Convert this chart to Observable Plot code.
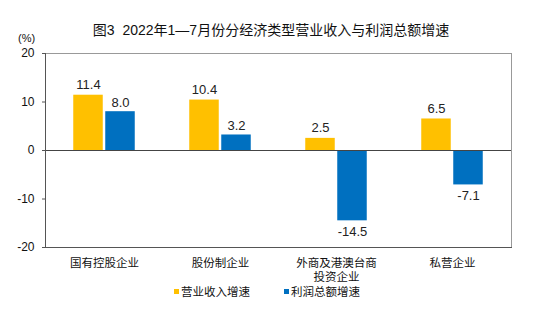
<!DOCTYPE html>
<html>
<head>
<meta charset="utf-8">
<script src="https://cdn.jsdelivr.net/npm/d3@7"></script>
<script src="https://cdn.jsdelivr.net/npm/@observablehq/plot@0.6"></script>
<style>
  html, body { margin: 0; padding: 0; background: #fff; }
  #wrap { position: relative; width: 549px; height: 328px; font-family: "Liberation Sans", "Noto Sans CJK SC", sans-serif; color: #111; }
  #title { position: absolute; left: 0; width: 542px; top: 20px; text-align: center; font-size: 14px; line-height: 20px; white-space: pre; }
  #unit { position: absolute; left: 18px; top: 32px; font-size: 11px; line-height: 13px; }
  #legend { position: absolute; left: 174px; top: 284px; font-size: 11.5px; line-height: 16px; white-space: nowrap; }
  #legend span.item { display: inline-block; margin-right: 34px; }
  #legend span.sw { display: inline-block; width: 5px; height: 5px; margin-right: 2px; vertical-align: 2px; }
  #chart { position: absolute; left: 0; top: 0; }
</style>
</head>
<body>
<div id="wrap">
  <div id="chart"></div>
  <div id="title"></div>
  <div id="unit"></div>
  <div id="legend"></div>
</div>
<script>
const titleText = "图3  2022年1—7月份分经济类型营业收入与利润总额增速";
const unitText = "(%)";
const categories = ["国有控股企业", "股份制企业", "外商及港澳台商投资企业", "私营企业"];
const categoryLabels = ["国有控股企业", "股份制企业", "外商及港澳台商\n投资企业", "私营企业"];
const seriesNames = ["营业收入增速", "利润总额增速"];
const revenueGrowth = [11.4, 10.4, 2.5, 6.5];
const profitGrowth = [8.0, 3.2, -14.5, -7.1];
const yTicks = [-20, -10, 0, 10, 20];
const colors = ["#FFC000", "#0070C0"];

document.getElementById("title").textContent = titleText;
document.getElementById("unit").textContent = unitText;

const rev = categories.map((c, i) => ({cat: c, value: revenueGrowth[i]}));
const prof = categories.map((c, i) => ({cat: c, value: profitGrowth[i]}));
const labelOf = new Map(categories.map((c, i) => [c, categoryLabels[i]]));
const fmt = d => d.toFixed(1);

const W = 549, H = 328;
const half = (W - 45 - 38) / categories.length / 2;

const plot = Plot.plot({
  width: W,
  height: H,
  marginLeft: 45,
  marginRight: 38,
  marginTop: 53,
  marginBottom: 81,
  style: {fontFamily: "'Liberation Sans', 'Noto Sans CJK SC', sans-serif", color: "#111", background: "transparent"},
  x: {domain: categories, padding: 0, label: null},
  y: {domain: [-20, 20], label: null},
  marks: [
    Plot.barY(rev, {x: "cat", y: "value", fill: colors[0], insetLeft: half - 31, insetRight: half + 1}),
    Plot.barY(prof, {x: "cat", y: "value", fill: colors[1], insetLeft: half + 1, insetRight: half - 31}),
    Plot.ruleY([0], {stroke: "#444", strokeWidth: 1}),
    Plot.frame({stroke: "#999"}),
    Plot.frame({anchor: "left", stroke: "#555"}),
    Plot.frame({anchor: "bottom", stroke: "#555"}),
    Plot.text(rev.filter(d => d.value >= 0), {x: "cat", y: "value", text: d => fmt(d.value), dx: -16,
      lineAnchor: "bottom", dy: -6, fontSize: 13, fill: "#222"}),
    Plot.text(prof.filter(d => d.value >= 0), {x: "cat", y: "value", text: d => fmt(d.value), dx: 16,
      lineAnchor: "bottom", dy: -5, fontSize: 13, fill: "#222"}),
    Plot.text(prof.filter(d => d.value < 0), {x: "cat", y: "value", text: d => fmt(d.value), dx: 16,
      lineAnchor: "top", dy: 6, fontSize: 13, fill: "#222"}),
    Plot.axisY({ticks: yTicks, tickSize: 3, tickPadding: 8, tickFormat: d => String(d), fontSize: 12, stroke: "#555"}),
    Plot.axisX({tickSize: 0, tickPadding: 10, tickFormat: d => labelOf.get(d), fontSize: 11.5, lineHeight: 1.2})
  ]
});
document.getElementById("chart").appendChild(plot);

const legend = document.getElementById("legend");
seriesNames.forEach((name, i) => {
  const item = document.createElement("span");
  item.className = "item";
  const sw = document.createElement("span");
  sw.className = "sw";
  sw.style.background = colors[i];
  item.appendChild(sw);
  item.appendChild(document.createTextNode(name));
  legend.appendChild(item);
});
</script>
</body>
</html>
